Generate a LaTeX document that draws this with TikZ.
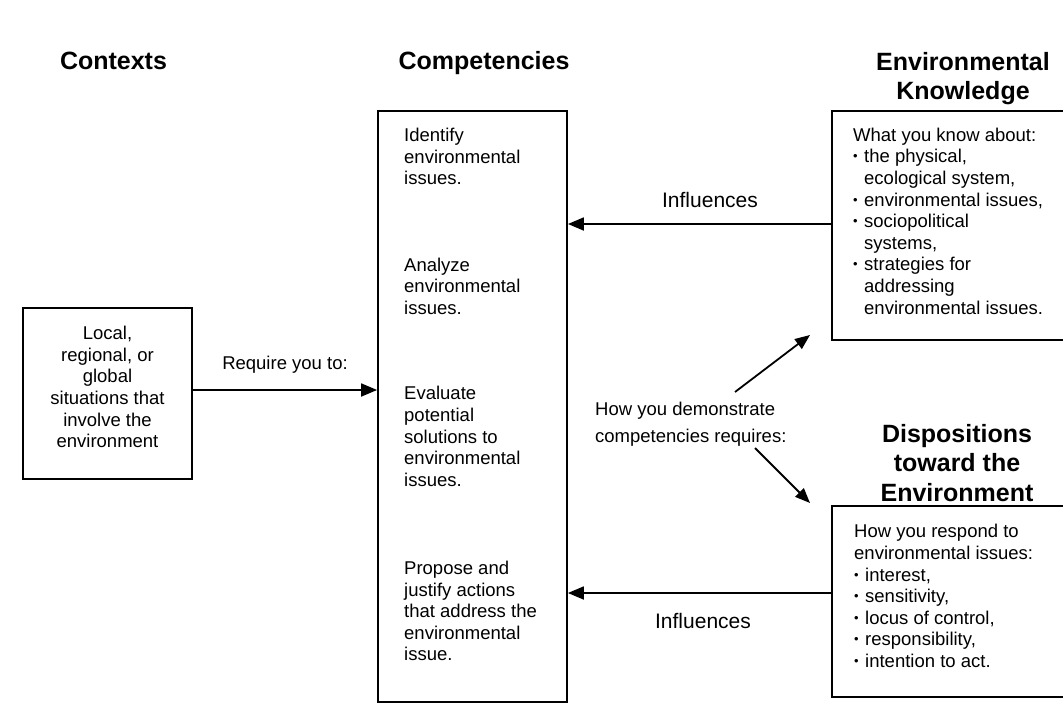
\documentclass[tikz,border=0pt]{standalone}
\usepackage{fontspec}
\usepackage{graphicx}
\setmainfont{Liberation Sans}
\usetikzlibrary{arrows.meta}
% small list bullet and the matching hanging indent
\newcommand\bul{\makebox[11pt][l]{\raisebox{0.1em}{\scalebox{0.7}{\textbullet}}}}
\newcommand\hang{\hspace*{11pt}}

\begin{document}
\begin{tikzpicture}[x=1pt,y=-1pt,
  hdr/.style={font=\fontsize{25}{29.5}\selectfont\bfseries, align=center, inner sep=0pt},
  body/.style={font=\fontsize{18.5}{21.6}\selectfont, inner sep=0pt},
  tag/.style={font=\fontsize{21}{25}\selectfont, inner sep=0pt},
  frame/.style={draw, line width=1.8pt, inner sep=0pt},
  link/.style={line width=1.8pt, -{Triangle[length=16pt,width=13pt]}},
  slant/.style={line width=1.8pt, -{Triangle[length=15pt,width=12pt]}},
]
\useasboundingbox (0,0) rectangle (1063,712);
\clip (0,0) rectangle (1063,712);

% column headings
\node[hdr] (hctx)  at (113.5,61) {Contexts};
\node[hdr] (hcomp) at (484,63) {Competencies};
\node[hdr] (hknow) at (963,78.6) {Environmental\\Knowledge};
\node[hdr] (hdisp) at (957,463) {Dispositions\\toward the\\Environment};

% frames
\node[frame, minimum width=169pt, minimum height=171pt] (ctx)  at (107.5,393.5) {};
\node[frame, minimum width=189pt, minimum height=591pt] (comp) at (472.5,406.5) {};
\node[frame, minimum width=243pt, minimum height=229pt] (know) at (953.5,225.5) {};
\node[frame, minimum width=243pt, minimum height=191pt] (disp) at (953.5,601.5) {};

% contexts text
\node[body, align=center] (tctx) at (107.5,387)
  {Local,\\regional, or\\global\\situations that\\involve the\\environment};

% competency list
\node[body, align=left, anchor=west] (c1) at (404,156.5) {Identify\\environmental\\issues.};
\node[body, align=left, anchor=west] (c2) at (404,286) {Analyze\\environmental\\issues.};
\node[body, align=left, anchor=west] (c3) at (404,436.5)
  {Evaluate\\potential\\solutions to\\environmental\\issues.};
\node[body, align=left, anchor=west] (c4) at (404,611)
  {Propose and\\justify actions\\that address the\\environmental\\issue.};

% knowledge list
\node[body, align=left, anchor=west] (tknow) at (853,221)
  {What you know about:\\
   \bul the physical,\\
   \hang ecological system,\\
   \bul environmental issues,\\
   \bul sociopolitical\\
   \hang systems,\\
   \bul strategies for\\
   \hang addressing\\
   \hang environmental issues.};

% dispositions list
\node[body, align=left, anchor=west] (tdisp) at (854,596)
  {How you respond to\\
   environmental issues:\\
   \bul interest,\\
   \bul sensitivity,\\
   \bul locus of control,\\
   \bul responsibility,\\
   \bul intention to act.};

% connectors
\coordinate (r0) at ([yshift=3.5pt]ctx.east);
\draw[link] (r0) -- (comp.west |- r0);
\node[body] (treq) at (285,365) {Require you to:};

\coordinate (k0) at ([yshift=1.5pt]know.west);
\draw[link] (k0) -- (comp.east |- k0);
\node[tag] (inf1) at (710,200) {Influences};

\coordinate (d0) at ([yshift=8.5pt]disp.west);
\draw[link] (d0) -- (comp.east |- d0);
\node[tag] (inf2) at (703,621) {Influences};

\node[font=\fontsize{18.5}{26.5}\selectfont, inner sep=0pt, align=left, anchor=west] (demo)
  at (595,424.3) {How you demonstrate\\competencies requires:};
\coordinate (u1) at (735,392);
\coordinate (u2) at (810,335);
\coordinate (l1) at (755,448);
\coordinate (l2) at (810,503);
\draw[slant] (u1) -- (u2);
\draw[slant] (l1) -- (l2);
\end{tikzpicture}
\end{document}
